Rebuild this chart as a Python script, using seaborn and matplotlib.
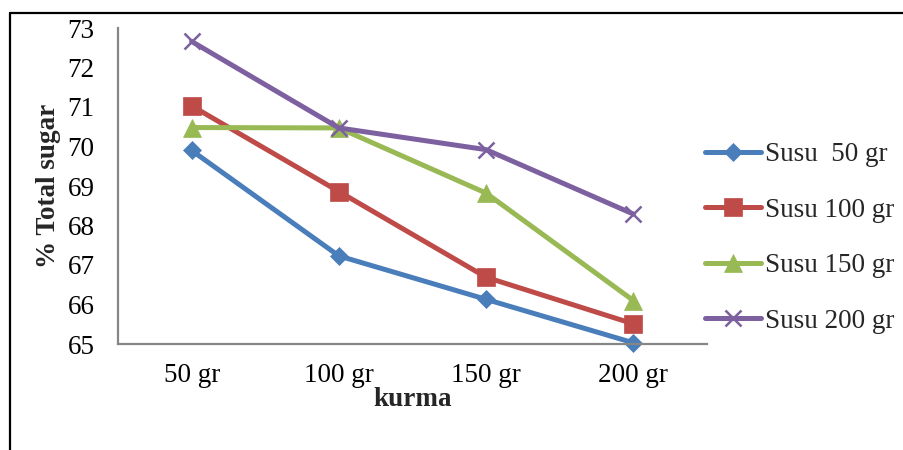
import matplotlib
matplotlib.use("Agg")
import matplotlib.pyplot as plt
from matplotlib.lines import Line2D
from matplotlib.ticker import MultipleLocator, FixedLocator
import seaborn as sns
import pandas as pd

categories = ["50 gr", "100 gr", "150 gr", "200 gr"]
series_names = ["Susu  50 gr", "Susu 100 gr", "Susu 150 gr", "Susu 200 gr"]
susu_50 = [69.90, 67.23, 66.13, 65.03]
susu_100 = [71.03, 68.86, 66.69, 65.51]
susu_150 = [70.48, 70.47, 68.82, 66.10]
susu_200 = [72.66, 70.47, 69.92, 68.29]
yticks = [65, 66, 67, 68, 69, 70, 71, 72, 73]

colors = ["#4A7EBB", "#BE4B48", "#98B954", "#7D60A0"]
markers = ["D", "s", "^", "x"]
msizes = [9.5, 12.5, 13, 12]
FS = 19.5

rows = []
for name, vals in zip(series_names, [susu_50, susu_100, susu_150, susu_200]):
    for c, v in zip(categories, vals):
        rows.append({"kurma": c, "sugar": v, "susu": name})
df = pd.DataFrame(rows)

sns.set_theme(style="white")
plt.rcParams["font.family"] = ["Liberation Serif", "DejaVu Serif"]

fig = plt.figure(figsize=(9.04, 4.5), dpi=100)
ax = fig.add_axes([118/904, 1-344/450, (707-118)/904, (344-28)/450])

sns.lineplot(data=df, x="kurma", y="sugar", hue="susu", style="susu",
             hue_order=series_names, style_order=series_names,
             palette=colors, markers=["D", "s", "^", "o"], dashes=False, sort=False,
             errorbar=None, linewidth=3.6, legend=False, ax=ax)

for line, c, ms, mk in zip(ax.lines, colors, msizes, markers):
    line.set_marker(mk)
    line.set_color(c)
    line.set_markerfacecolor(c)
    line.set_markeredgecolor(c)
    line.set_markersize(ms)
    line.set_markeredgewidth(1.8 if mk == "x" else 0.5)
    line.set_clip_on(False)
    line.set_solid_capstyle("round")
for line, name in zip(ax.lines, series_names):
    line.set_label(name)

ax.set_xlim(-0.5, 3.5)
ax.set_ylim(65, 73)
ax.set_xticks(range(len(categories)))
ax.set_xticklabels(categories)
ax.xaxis.set_minor_locator(FixedLocator([0.5, 1.5, 2.5]))
ax.set_yticks(yticks)
ax.yaxis.set_minor_locator(MultipleLocator(0.1))

gray = "#868686"
for s in ["top", "right"]:
    ax.spines[s].set_visible(False)
for s in ["left", "bottom"]:
    ax.spines[s].set_color(gray)
    ax.spines[s].set_linewidth(1.6)

ax.tick_params(axis="x", which="major", length=0, pad=14, labelsize=FS, labelcolor="black")
ax.tick_params(axis="x", which="minor", direction="in", length=6, width=1.2, color=gray)
ax.tick_params(axis="y", which="major", direction="out", length=5, width=1.2, color=gray,
               pad=12, labelsize=FS, labelcolor="black")
ax.tick_params(axis="y", which="minor", direction="out", length=5, width=1.0, color=gray)

ax.set_xlabel("kurma", fontsize=FS, fontweight="bold", va="center")
ax.xaxis.set_label_coords(0.5, -(399-344)/316)
ax.set_ylabel("% Total sugar", fontsize=FS, fontweight="bold", va="center")
ax.yaxis.set_label_coords((49-118)/589, 0.5)

leg = ax.legend(ax.lines, series_names, loc="center left",
                bbox_to_anchor=(705/904, 1-238/450), bbox_transform=fig.transFigure,
                frameon=False, fontsize=FS, handlelength=2.05, handletextpad=0.15,
                labelspacing=1.13, borderpad=0, borderaxespad=0)

fig.add_artist(Line2D([10/904, 1], [1-13/450, 1-13/450], transform=fig.transFigure,
                      color="black", linewidth=1.6))
fig.add_artist(Line2D([10/904, 10/904], [0, 1-13/450], transform=fig.transFigure,
                      color="black", linewidth=1.6))

fig.savefig("out.png", dpi=100)
